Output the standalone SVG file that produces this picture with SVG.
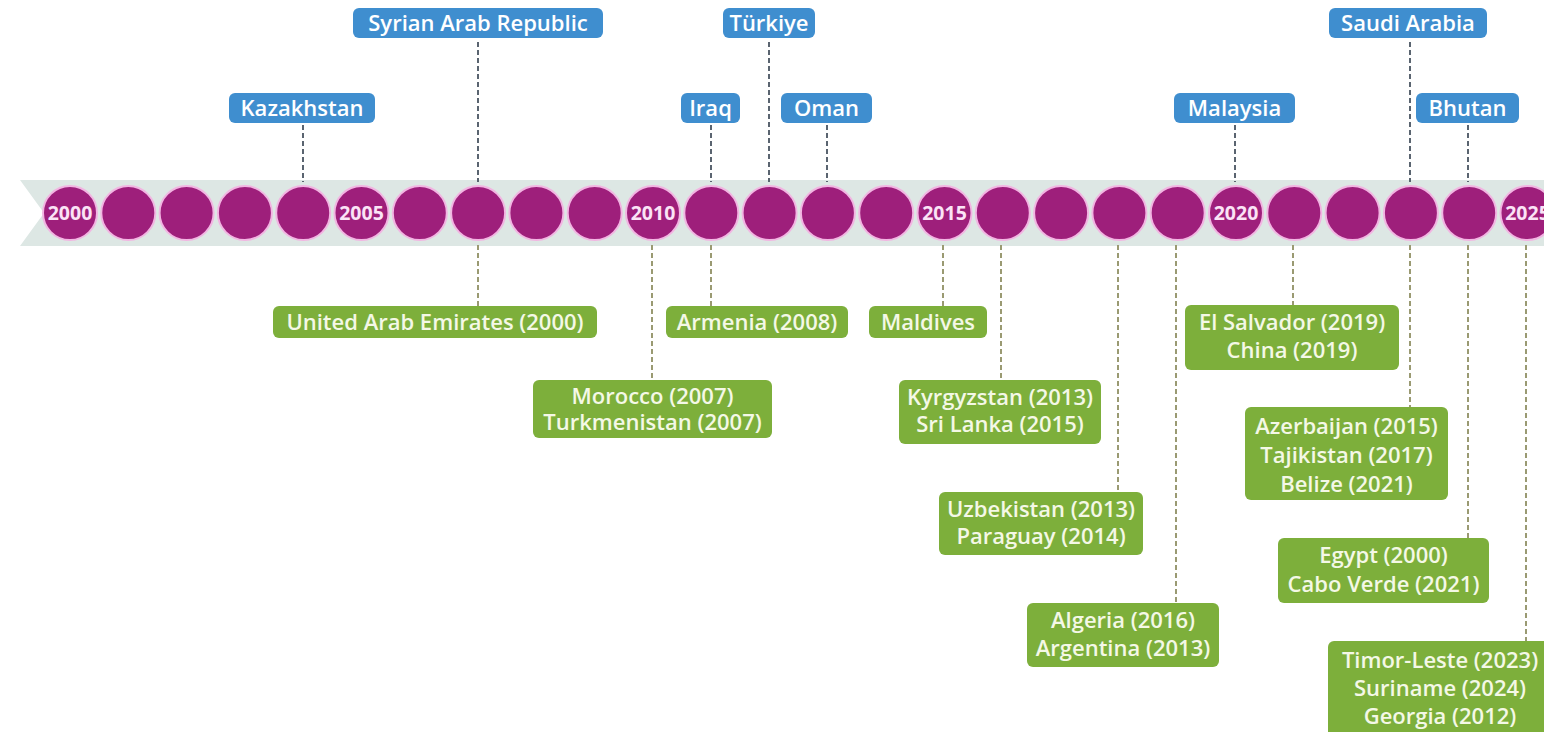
<svg xmlns="http://www.w3.org/2000/svg" width="1544" height="732" viewBox="0 0 1544 732">
<style>
.band{fill:#dde7e4}
.yr{fill:#9e1f7b;stroke:#f2b5e2;stroke-width:2}
.yt{font-family:"Open Sans","Liberation Sans",sans-serif;font-weight:700;font-size:19.5px;fill:#fbe3f6;text-anchor:middle}
.bb{fill:#3f8ecf}
.gb{fill:#7daf3b}
.bt{font-family:"Open Sans","Liberation Sans",sans-serif;font-weight:600;font-size:22px;fill:#ffffff;text-anchor:middle}
.gt{font-family:"Open Sans","Liberation Sans",sans-serif;font-weight:600;font-size:22px;fill:#f4f8e6;text-anchor:middle}
.ct{stroke:#5a6470;stroke-width:2;stroke-dasharray:5 3;fill:none}
.cb{stroke:#9a9a72;stroke-width:2;stroke-dasharray:5 3;fill:none}
</style>
<rect width="1544" height="732" fill="#ffffff"/>
<polygon class="band" points="20,180 1544,180 1544,246 20,246 44,213"/>
<g id="connectors">
<line class="ct" x1="303" y1="125" x2="303" y2="182"/>
<line class="ct" x1="478" y1="42" x2="478" y2="182"/>
<line class="ct" x1="711" y1="125" x2="711" y2="182"/>
<line class="ct" x1="769" y1="42" x2="769" y2="182"/>
<line class="ct" x1="827" y1="125" x2="827" y2="182"/>
<line class="ct" x1="1235" y1="125" x2="1235" y2="182"/>
<line class="ct" x1="1410" y1="42" x2="1410" y2="182"/>
<line class="ct" x1="1468" y1="125" x2="1468" y2="182"/>
<line class="cb" x1="478" y1="245" x2="478" y2="306"/>
<line class="cb" x1="652" y1="245" x2="652" y2="380"/>
<line class="cb" x1="711" y1="245" x2="711" y2="306"/>
<line class="cb" x1="943" y1="245" x2="943" y2="306"/>
<line class="cb" x1="1001" y1="245" x2="1001" y2="380"/>
<line class="cb" x1="1118" y1="245" x2="1118" y2="492"/>
<line class="cb" x1="1176" y1="245" x2="1176" y2="603"/>
<line class="cb" x1="1293" y1="245" x2="1293" y2="305"/>
<line class="cb" x1="1410" y1="245" x2="1410" y2="407"/>
<line class="cb" x1="1468" y1="245" x2="1468" y2="538"/>
<line class="cb" x1="1526" y1="245" x2="1526" y2="641"/>
</g>
<g id="years">
<circle class="yr" cx="70" cy="213" r="27"/><text class="yt" x="70" y="220">2000</text>
<circle class="yr" cx="128.3" cy="213" r="27"/>
<circle class="yr" cx="186.6" cy="213" r="27"/>
<circle class="yr" cx="244.9" cy="213" r="27"/>
<circle class="yr" cx="303.2" cy="213" r="27"/>
<circle class="yr" cx="361.5" cy="213" r="27"/><text class="yt" x="361.5" y="220">2005</text>
<circle class="yr" cx="419.8" cy="213" r="27"/>
<circle class="yr" cx="478.1" cy="213" r="27"/>
<circle class="yr" cx="536.4" cy="213" r="27"/>
<circle class="yr" cx="594.7" cy="213" r="27"/>
<circle class="yr" cx="653" cy="213" r="27"/><text class="yt" x="653" y="220">2010</text>
<circle class="yr" cx="711.3" cy="213" r="27"/>
<circle class="yr" cx="769.6" cy="213" r="27"/>
<circle class="yr" cx="827.9" cy="213" r="27"/>
<circle class="yr" cx="886.2" cy="213" r="27"/>
<circle class="yr" cx="944.5" cy="213" r="27"/><text class="yt" x="944.5" y="220">2015</text>
<circle class="yr" cx="1002.8" cy="213" r="27"/>
<circle class="yr" cx="1061.1" cy="213" r="27"/>
<circle class="yr" cx="1119.4" cy="213" r="27"/>
<circle class="yr" cx="1177.7" cy="213" r="27"/>
<circle class="yr" cx="1236" cy="213" r="27"/><text class="yt" x="1236" y="220">2020</text>
<circle class="yr" cx="1294.3" cy="213" r="27"/>
<circle class="yr" cx="1352.6" cy="213" r="27"/>
<circle class="yr" cx="1410.9" cy="213" r="27"/>
<circle class="yr" cx="1469.2" cy="213" r="27"/>
<circle class="yr" cx="1527.5" cy="213" r="27"/><text class="yt" x="1527.5" y="220">2025</text>
</g>
<g id="kazakhstan"><rect class="bb" x="229" y="93" width="146" height="30" rx="6"/><text class="bt" x="302" y="116">Kazakhstan</text></g>
<g id="syria"><rect class="bb" x="353" y="8" width="250" height="30" rx="6"/><text class="bt" x="478" y="31">Syrian Arab Republic</text></g>
<g id="iraq"><rect class="bb" x="681" y="93" width="59" height="30" rx="6"/><text class="bt" x="710.5" y="116">Iraq</text></g>
<g id="turkiye"><rect class="bb" x="723" y="8" width="92" height="30" rx="6"/><text class="bt" x="769" y="31">Türkiye</text></g>
<g id="oman"><rect class="bb" x="781" y="93" width="91" height="30" rx="6"/><text class="bt" x="826.5" y="116">Oman</text></g>
<g id="malaysia"><rect class="bb" x="1174" y="93" width="121" height="30" rx="6"/><text class="bt" x="1234.5" y="116">Malaysia</text></g>
<g id="saudi"><rect class="bb" x="1329" y="8" width="158" height="30" rx="6"/><text class="bt" x="1408" y="31">Saudi Arabia</text></g>
<g id="bhutan"><rect class="bb" x="1416" y="93" width="103" height="30" rx="6"/><text class="bt" x="1467.5" y="116">Bhutan</text></g>
<g id="uae"><rect class="gb" x="273" y="306" width="324" height="32" rx="6"/><text class="gt" x="435" y="330">United Arab Emirates (2000)</text></g>
<g id="morocco"><rect class="gb" x="533" y="380" width="239" height="58" rx="6"/><text class="gt" x="652.5" y="404">Morocco (2007)</text><text class="gt" x="652.5" y="430">Turkmenistan (2007)</text></g>
<g id="armenia"><rect class="gb" x="666" y="306" width="182" height="32" rx="6"/><text class="gt" x="757" y="330">Armenia (2008)</text></g>
<g id="maldives"><rect class="gb" x="869" y="306" width="118" height="32" rx="6"/><text class="gt" x="928" y="330">Maldives</text></g>
<g id="kyrgyzstan"><rect class="gb" x="899" y="380" width="202" height="64" rx="6"/><text class="gt" x="1000" y="405">Kyrgyzstan (2013)</text><text class="gt" x="1000" y="432">Sri Lanka (2015)</text></g>
<g id="uzbekistan"><rect class="gb" x="939" y="492" width="204" height="63" rx="6"/><text class="gt" x="1041" y="517">Uzbekistan (2013)</text><text class="gt" x="1041" y="544">Paraguay (2014)</text></g>
<g id="algeria"><rect class="gb" x="1027" y="603" width="192" height="64" rx="6"/><text class="gt" x="1123" y="628">Algeria (2016)</text><text class="gt" x="1123" y="656">Argentina (2013)</text></g>
<g id="elsalvador"><rect class="gb" x="1185" y="305" width="214" height="65" rx="6"/><text class="gt" x="1292" y="330">El Salvador (2019)</text><text class="gt" x="1292" y="358">China (2019)</text></g>
<g id="azerbaijan"><rect class="gb" x="1245" y="407" width="203" height="93" rx="6"/><text class="gt" x="1346.5" y="434">Azerbaijan (2015)</text><text class="gt" x="1346.5" y="463">Tajikistan (2017)</text><text class="gt" x="1346.5" y="492">Belize (2021)</text></g>
<g id="egypt"><rect class="gb" x="1278" y="538" width="211" height="65" rx="6"/><text class="gt" x="1383.5" y="563">Egypt (2000)</text><text class="gt" x="1383.5" y="592">Cabo Verde (2021)</text></g>
<g id="timor"><rect class="gb" x="1328" y="641" width="224" height="96" rx="6"/><text class="gt" x="1440" y="668">Timor-Leste (2023)</text><text class="gt" x="1440" y="696">Suriname (2024)</text><text class="gt" x="1440" y="724">Georgia (2012)</text></g>
</svg>
